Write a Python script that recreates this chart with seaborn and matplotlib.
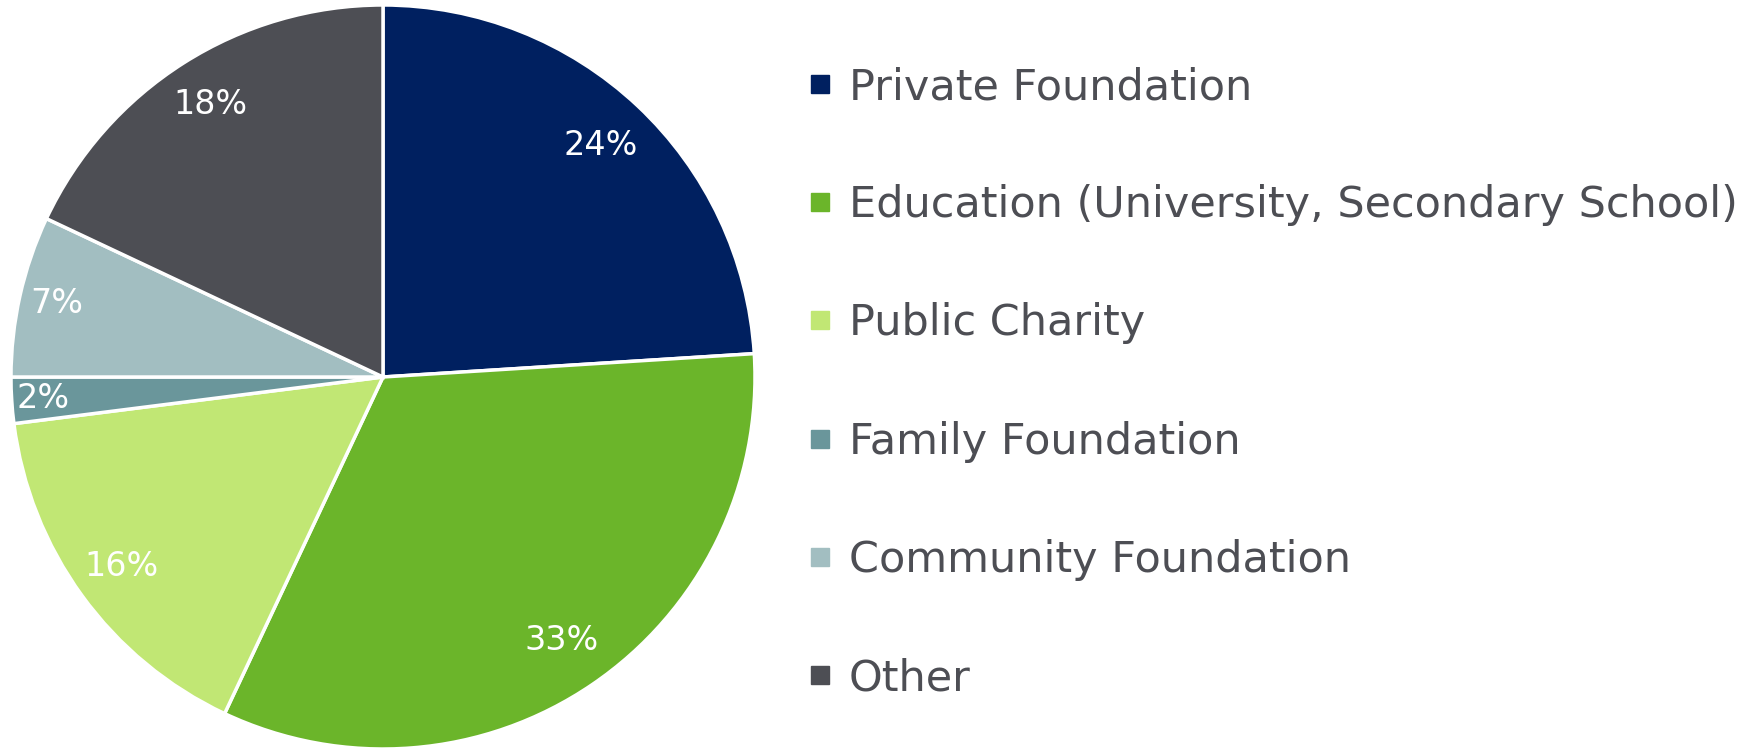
import matplotlib
matplotlib.use("Agg")
import matplotlib.pyplot as plt
from matplotlib.lines import Line2D
import numpy as np
import seaborn as sns

# categories and shares (percent), clockwise from 12 o'clock
categories = ["Private Foundation", "Education (University, Secondary School)",
              "Public Charity", "Family Foundation", "Community Foundation", "Other"]
shares = [24, 33, 16, 2, 7, 18]
colors = ["#002060", "#6BB52A", "#C1E774", "#6A969B", "#A2BEC1", "#4D4E54"]
# label distance from centre (fraction of radius), small slices sit further out
label_dist = [0.855, 0.855, 0.868, 0.915, 0.9, 0.866]

sns.set_theme(style="white")
plt.rcParams["font.family"] = ["DejaVu Sans"]
palette = sns.color_palette(colors)

W, H = 1758, 749
fig = plt.figure(figsize=(W / 100, H / 100), dpi=100)

# pie axes: center (383, 377) px, radius 372 px
cx, cy, r = 383, 377, 372
ax = fig.add_axes([(cx - r) / W, (H - cy - r) / H, 2 * r / W, 2 * r / H])

wedges, texts, autotexts = ax.pie(
    shares, colors=palette, startangle=90, counterclock=False,
    autopct="%d%%", pctdistance=0.87,
    wedgeprops=dict(edgecolor="white", linewidth=2.5),
    textprops=dict(color="white", fontsize=24),
)
for w, t, d in zip(wedges, autotexts, label_dist):
    ang = np.deg2rad((w.theta1 + w.theta2) / 2)
    t.set_position((d * np.cos(ang), d * np.sin(ang)))

ax.set_xlim(-1, 1)
ax.set_ylim(-1, 1)
ax.set_aspect("equal")

handles = [Line2D([0], [0], marker="s", linestyle="", markersize=13,
                  markerfacecolor=c, markeredgecolor=c) for c in palette]
fig.legend(handles, categories, loc="upper left",
           bbox_to_anchor=(808 / W, (H - 66) / H), frameon=False,
           fontsize=31, labelcolor="#4D4E54", labelspacing=1.77,
           handlelength=0.55, handletextpad=0.4, borderpad=0, borderaxespad=0)

fig.savefig("out.png", dpi=100, facecolor="white")
